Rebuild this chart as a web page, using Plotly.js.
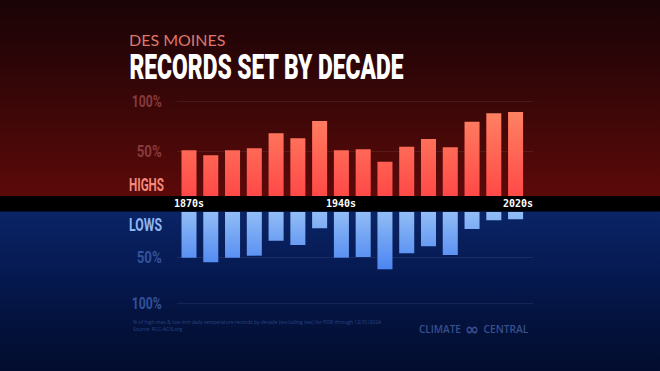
<!DOCTYPE html>
<html>
<head>
<meta charset="utf-8">
<script src="https://cdn.plot.ly/plotly-3.0.1.min.js"></script>
<style>
  html, body { margin:0; padding:0; width:660px; height:371px; overflow:hidden; }
  body {
    background: linear-gradient(to bottom,
      #1a0406 0px, #2c0507 60px, #480808 140px, #5c0909 196px,
      #000000 196px, #000000 211px,
      #0a2466 211px, #061a52 270px, #03113a 330px, #020c2e 371px);
  }
  #chart { width:660px; height:371px; }
</style>
</head>
<body>
<div id="chart"></div>
<script>
const decades = ['1870s','1880s','1890s','1900s','1910s','1920s','1930s','1940s','1950s','1960s','1970s','1980s','1990s','2000s','2010s','2020s'];
const highsPct = [50.7,45.7,50.7,52.7,67.7,62.7,80,50.7,51.7,39.3,54.3,62,53.7,79.3,87.7,89];
const lowsPct  = [50.2,55.2,50.2,48,31.7,36.4,18.1,50.2,49.5,62.9,45.4,37.8,47.3,18.9,9.4,8.3];
const labeledDecades = ['1870s','1940s','2020s'];
const yTickVals = [50,100];
const yTickText = ['50%','100%'];

const H = 371, W = 660;
const py = p => 1 - p / H;
const px = p => p / W;

const xDomain = [px(176.7), px(533)];
const xRange = [-0.565, 15.8];

const traces = [
  { type:'bar', x:decades, y:highsPct, xaxis:'x', yaxis:'y',
    marker:{color:'#ff5f55', line:{width:0}}, hoverinfo:'skip' },
  { type:'bar', x:decades, y:lowsPct, xaxis:'x2', yaxis:'y2',
    marker:{color:'#5a92f2', line:{width:0}}, hoverinfo:'skip' }
];

const tickFontHigh = {family:'Roboto, Arial, sans-serif', size:16, color:'#873a3c', weight:700};
const tickFontLow = {family:'Roboto, Arial, sans-serif', size:16, color:'#33529a', weight:700};
const logoFont = {family:'Open Sans, DejaVu Sans, sans-serif', size:10, color:'#384f8c', weight:600};

const annotations = [
  { xref:'paper', yref:'paper', x:px(126.5), y:py(39.5), xanchor:'left', yanchor:'middle',
    text:'DES MOINES', showarrow:false,
    font:{family:'Lato, Open Sans, sans-serif', size:16, color:'#dd776c'} },
  { xref:'paper', yref:'paper', x:px(146), y:py(184.5), xanchor:'center', yanchor:'middle',
    text:'HIGHS', showarrow:false,
    font:{family:'Roboto, Arial, sans-serif', size:19, color:'#f38a78', weight:700} },
  { xref:'paper', yref:'paper', x:px(145.5), y:py(224), xanchor:'center', yanchor:'middle',
    text:'LOWS', showarrow:false,
    font:{family:'Roboto, Arial, sans-serif', size:19, color:'#8fb6f2', weight:700} },
  { xref:'paper', yref:'paper', x:px(131), y:py(322), xanchor:'left', yanchor:'middle',
    text:'% of high max & low min daily temperature records by decade (excluding ties) for POR through 12/31/2024',
    showarrow:false, font:{family:'Open Sans, sans-serif', size:5, color:'#2a4584'} },
  { xref:'paper', yref:'paper', x:px(131), y:py(328.5), xanchor:'left', yanchor:'middle',
    text:'Source: RCC-ACIS.org',
    showarrow:false, font:{family:'Open Sans, sans-serif', size:5, color:'#2a4584'} },
  { xref:'paper', yref:'paper', x:px(439.5), y:py(329), xanchor:'center', yanchor:'middle',
    text:'CLIMATE', showarrow:false, font:logoFont },
  { xref:'paper', yref:'paper', x:px(471.5), y:py(328.5), xanchor:'center', yanchor:'middle',
    text:'\u221E', showarrow:false,
    font:{family:'DejaVu Sans, sans-serif', size:17, color:'#384f8c', weight:700} },
  { xref:'paper', yref:'paper', x:px(505.5), y:py(329), xanchor:'center', yanchor:'middle',
    text:'CENTRAL', showarrow:false, font:logoFont }
];
labeledDecades.forEach((d, i) => {
  annotations.push({ xref:'x', yref:'paper', x:d, y:py(203.7), xanchor:'center', yanchor:'middle',
    xshift: i === 2 ? 2 : 0,
    text:d, showarrow:false,
    font:{family:'DejaVu Sans Mono, monospace', size:10, color:'#ffffff', weight:700} });
});

const layout = {
  width:W, height:H,
  margin:{l:0, r:0, t:0, b:0},
  paper_bgcolor:'rgba(0,0,0,0)', plot_bgcolor:'rgba(0,0,0,0)',
  showlegend:false, bargap:0.31,
  title:{ text:'RECORDS SET BY DECADE', x:px(129.5), xanchor:'left', xref:'container',
    y:py(67), yanchor:'middle', yref:'container',
    font:{family:'Roboto, Arial, sans-serif', size:35, color:'#ffffff', weight:900} },
  xaxis:{ domain:xDomain, range:xRange, type:'category', anchor:'y',
    showticklabels:false, showgrid:false, zeroline:false, showline:false, ticks:'', fixedrange:true },
  yaxis:{ domain:[py(201), py(99)], range:[0,102], anchor:'x',
    tickvals:yTickVals, ticktext:yTickText, tickfont:tickFontHigh, ticks:'',
    ticklabelstandoff:14,
    showgrid:true, gridcolor:'rgba(255,255,255,0.07)', gridwidth:1,
    zeroline:false, showline:false, fixedrange:true },
  xaxis2:{ domain:xDomain, range:xRange, type:'category', anchor:'y2',
    showticklabels:false, showgrid:false, zeroline:false, showline:false, ticks:'', fixedrange:true },
  yaxis2:{ domain:[py(305.1), py(211.7)], range:[102,0], anchor:'x2',
    tickvals:yTickVals, ticktext:yTickText, tickfont:tickFontLow, ticks:'',
    ticklabelstandoff:14,
    showgrid:true, gridcolor:'rgba(255,255,255,0.07)', gridwidth:1,
    zeroline:false, showline:false, fixedrange:true },
  shapes:[
    { type:'rect', xref:'paper', yref:'paper', x0:0, x1:1, y0:py(211.5), y1:py(196),
      fillcolor:'#000000', line:{width:0}, layer:'above' }
  ],
  annotations:annotations
};

Plotly.newPlot('chart', traces, layout, {displayModeBar:false, staticPlot:true}).then(gd => {
  const svg = gd.querySelector('.main-svg');
  const ns = 'http://www.w3.org/2000/svg';
  const defs = document.createElementNS(ns, 'defs');
  function grad(id, y2, stops) {
    const g = document.createElementNS(ns, 'linearGradient');
    g.setAttribute('id', id);
    g.setAttribute('gradientUnits', 'userSpaceOnUse');
    g.setAttribute('x1', 0); g.setAttribute('x2', 0);
    g.setAttribute('y1', 0); g.setAttribute('y2', y2);
    stops.forEach(([o, c]) => {
      const s = document.createElementNS(ns, 'stop');
      s.setAttribute('offset', o); s.setAttribute('stop-color', c);
      g.appendChild(s);
    });
    defs.appendChild(g);
  }
  const fl = gd._fullLayout;
  grad('gHigh', fl.yaxis._length, [[0,'#ff8a66'],[1,'#ff4646']]);
  grad('gLow', fl.yaxis2._length, [[0,'#92bdf6'],[1,'#1f62ee']]);
  svg.insertBefore(defs, svg.firstChild);
  const tr = gd.querySelectorAll('.barlayer .trace');
  if (tr[0]) tr[0].querySelectorAll('path').forEach(p => p.style.fill = 'url(#gHigh)');
  if (tr[1]) tr[1].querySelectorAll('path').forEach(p => p.style.fill = 'url(#gLow)');

  function squeeze(el, w) {
    el.setAttribute('textLength', w);
    el.setAttribute('lengthAdjust', 'spacingAndGlyphs');
  }
  const t = gd.querySelector('.gtitle');
  if (t) squeeze(t, 274);
  gd.querySelectorAll('.annotation-text').forEach(el => {
    const s = el.textContent;
    if (s === 'HIGHS') squeeze(el, 35);
    if (s === 'LOWS') squeeze(el, 33);
    if (s === 'CLIMATE') squeeze(el, 42);
    if (s === 'CENTRAL') squeeze(el, 45);
  });
  gd.querySelectorAll('.ytick text, .y2tick text').forEach(el => {
    const s = el.textContent;
    if (s === '100%') squeeze(el, 30);
    if (s === '50%') squeeze(el, 25);
  });
});
</script>
</body>
</html>
